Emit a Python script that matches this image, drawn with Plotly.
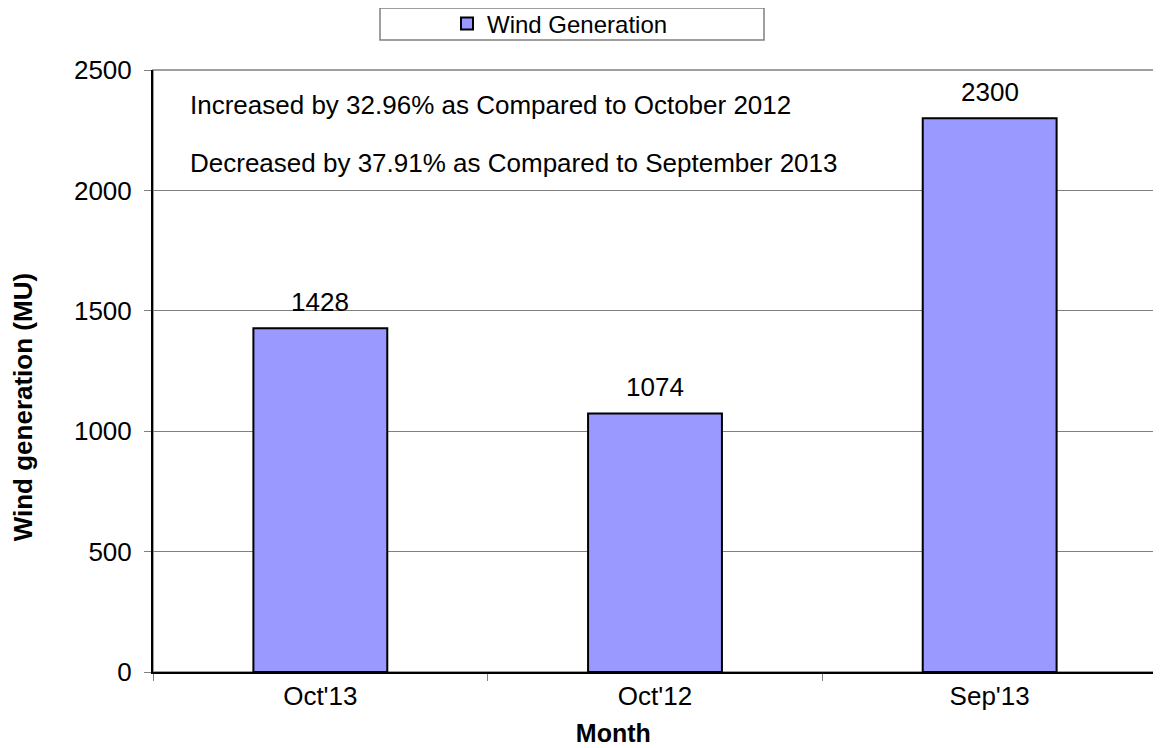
import plotly.graph_objects as go

months = ["Oct'13", "Oct'12", "Sep'13"]
wind_gen = [1428, 1074, 2300]
y_ticks = [0, 500, 1000, 1500, 2000, 2500]
notes = ["Increased by 32.96% as Compared to October 2012",
         "Decreased by 37.91% as Compared to September 2013"]

FONT = "Liberation Sans, Arial, sans-serif"
OFF = 8                      # default body margin of the html page
W, H = 1161 - OFF, 748 - OFF
# desired plot area in screen pixels
SX0, SX1, SY0, SY1 = 153, 1157, 70, 672
L, R = SX0 - OFF, W - (SX1 - OFF)
T, B = SY0 - OFF, H - (SY1 - OFF)
pw, ph = SX1 - SX0, SY1 - SY0

def px_x(x):
    return (x - SX0) / pw

def px_y(y):
    return (SY1 - y) / ph

NB = "&nbsp;"

fig = go.Figure()
fig.add_trace(go.Bar(
    x=months, y=wind_gen, name="Wind Generation",
    marker=dict(color="#9999FF", line=dict(color="black", width=2)),
    width=0.40,
))

for m, v in zip(months, wind_gen):
    fig.add_annotation(x=m, y=v, text=str(v), showarrow=False,
                       xanchor="center", yanchor="bottom", yshift=9,
                       font=dict(size=26, color="black", family=FONT))

for i, t in enumerate(notes):
    fig.add_annotation(text=t, xref="paper", yref="paper",
                       x=px_x(188), y=px_y(105 + 58 * i), xanchor="left", yanchor="middle",
                       showarrow=False, font=dict(size=26, color="black", family=FONT))

# plot area border (top/right gray)
fig.add_shape(type="rect", xref="paper", yref="paper", x0=0, x1=1, y0=0, y1=1,
              line=dict(color="#808080", width=1.5), layer="below")
# legend box
fig.add_shape(type="rect", xref="paper", yref="paper",
              x0=px_x(380), x1=px_x(764), y0=px_y(40), y1=px_y(8),
              line=dict(color="#808080", width=1.5), fillcolor="white", layer="below")

fig.update_layout(
    width=W, height=H, margin=dict(l=L, r=R, t=T, b=B, autoexpand=False),
    paper_bgcolor="white", plot_bgcolor="white",
    font=dict(family=FONT, size=26, color="black"),
    showlegend=True,
    legend=dict(xref="container", yref="container",
                x=(560 - OFF) / W, y=1 - (24 - OFF) / H,
                xanchor="center", yanchor="middle",
                orientation="h", font=dict(size=24, family=FONT),
                bgcolor="rgba(0,0,0,0)", itemwidth=30),
    xaxis=dict(
        showline=True, linecolor="black", linewidth=2,
        ticks="outside", tickson="boundaries", ticklen=7, tickcolor="#808080",
        tickfont=dict(size=26, family=FONT),
        title=dict(text="<b>Month</b>" + NB * 12, font=dict(size=25, family=FONT), standoff=14),
        showgrid=False,
    ),
    yaxis=dict(
        range=[0, 2500], tickvals=y_ticks,
        showline=True, linecolor="black", linewidth=2,
        ticks="outside", ticklen=7, tickcolor="#808080",
        tickfont=dict(size=26, family=FONT), ticklabelstandoff=7,
        showgrid=True, gridcolor="#808080", gridwidth=1,
        title=dict(text="<b>Wind generation (MU)</b>" + NB * 10, font=dict(size=26, family=FONT), standoff=40),
        zeroline=False,
    ),
)

fig.write_html("out.html")
